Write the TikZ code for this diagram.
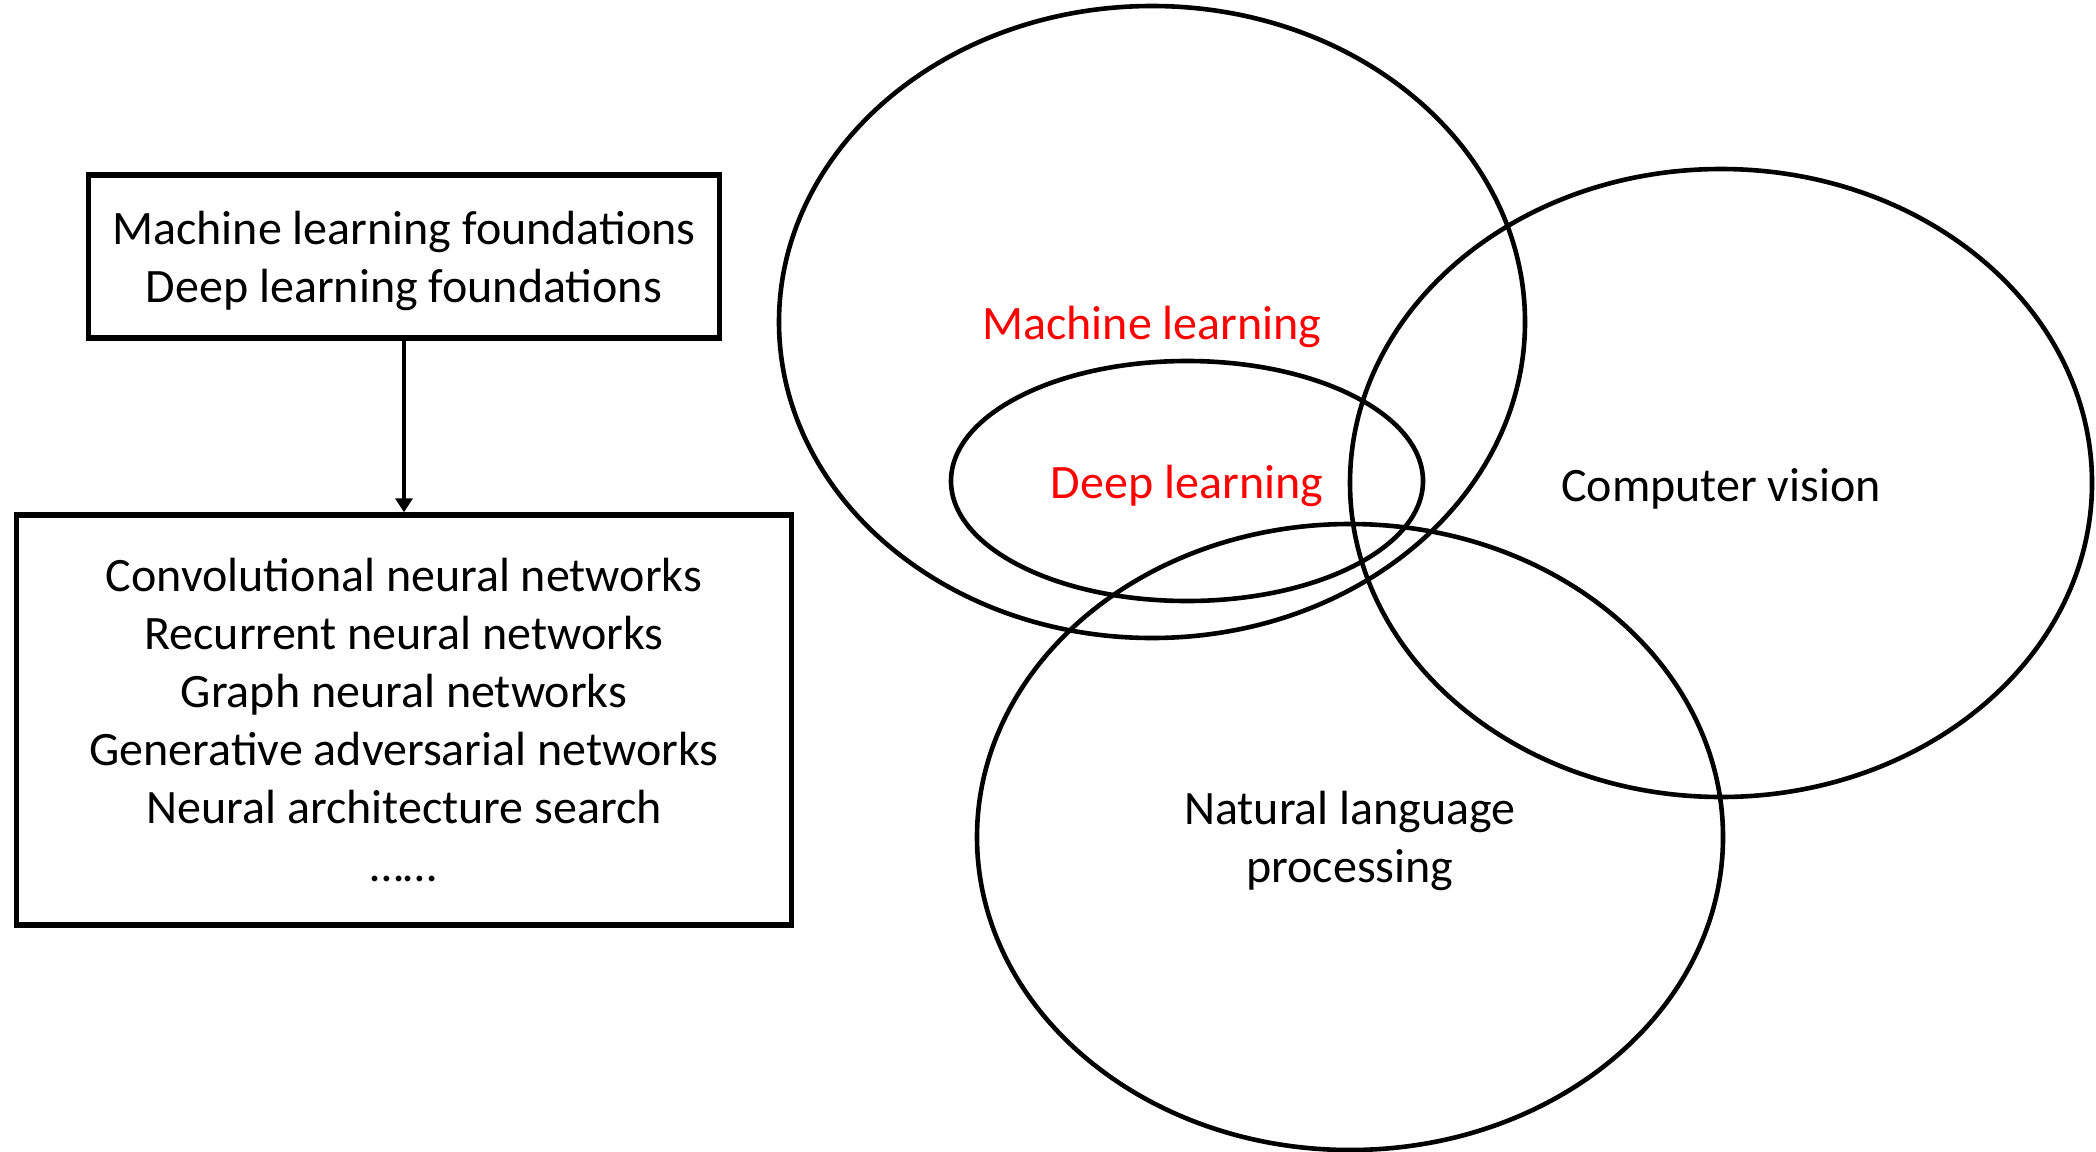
\documentclass[tikz,border=0pt]{standalone}
\usepackage{fontspec}
\setmainfont{Carlito}
\usetikzlibrary{shapes.geometric,arrows.meta}
\newcommand\stacked[1]{\raisebox{-2.6pt}[\height][\depth]{\begin{tabular}{@{}c@{}}#1\end{tabular}}}

\begin{document}
\begin{tikzpicture}[x=0.5pt, y=-0.5pt,
  box/.style = {draw, line width=2.7pt, inner sep=0pt, font=\fontsize{24}{29}\selectfont},
  area/.style = {draw, ellipse, line width=2.3pt, inner sep=0pt, font=\fontsize{24}{29}\selectfont, execute at begin node=\rule{0pt}{22pt}}]
\useasboundingbox (0,0) rectangle (2096,1151);
\node[box, minimum width=315.5pt, minimum height=81.5pt] (found) at (404,256.5) {\stacked{Machine learning foundations\\Deep learning foundations}};
\node[box, minimum width=387.5pt, minimum height=205pt] (models) at (404,720) {\stacked{Convolutional neural networks\\Recurrent neural networks\\Graph neural networks\\Generative adversarial networks\\Neural architecture search\\……}};
\node[area, minimum width=373pt, minimum height=316pt, text=red] (ml) at (1152,322) {Machine learning};
\node[area, minimum width=236pt, minimum height=120pt, text=red] (dl) at (1187,481) {Deep learning};
\node[area, minimum width=371pt, minimum height=314pt] (cv) at (1721,483) {Computer vision};
\node[area, minimum width=373pt, minimum height=313pt, execute at begin node={}] (nlp) at (1350,837) {\stacked{Natural language\\processing}};
\draw[line width=2.3pt, -{Triangle[length=7pt,width=8.5pt]}] (found) -- (models);
\end{tikzpicture}
\end{document}
